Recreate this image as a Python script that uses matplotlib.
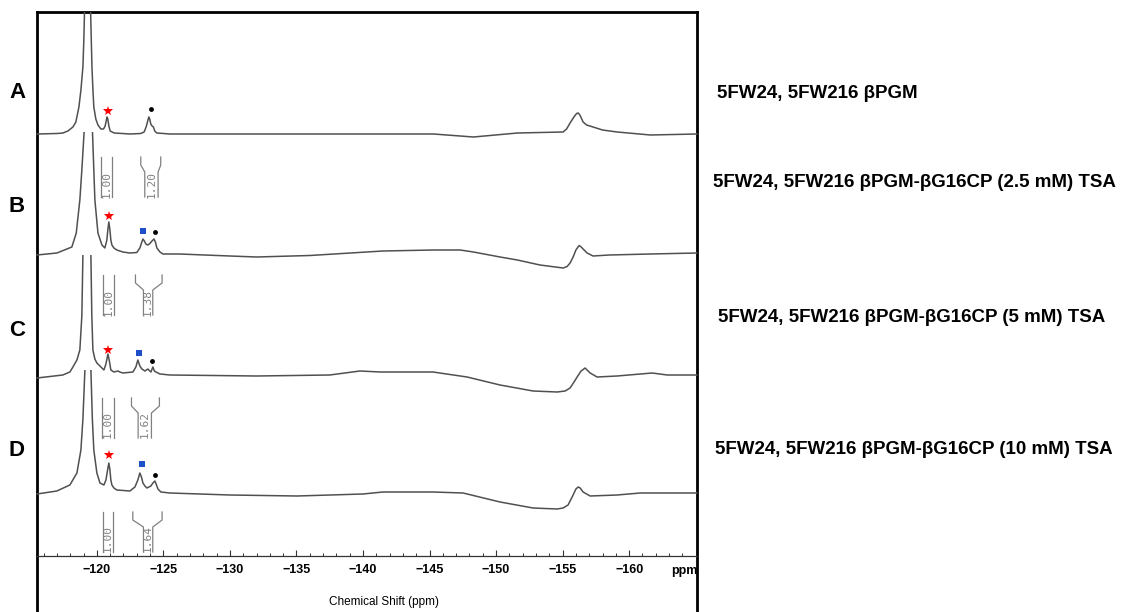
import matplotlib.pyplot as plt
from matplotlib.patches import Rectangle
import numpy as np

# 19F spectra: chemical shift (ppm) and height above each trace's own baseline
ppm_a = [-115.5, -117.0, -117.45, -117.82, -118.2, -118.42, -118.65, -118.8, -118.95, -119.02,
         -119.07, -119.3, -119.53, -119.58, -119.63, -119.7, -119.77, -119.92, -120.08, -120.3,
         -120.5, -120.62, -120.7, -120.76, -120.82, -120.9, -121.0, -121.3, -122.5, -123.3,
         -123.55, -123.7, -123.82, -123.9, -123.97, -124.05, -124.15, -124.25, -124.35, -124.5,
         -125.5, -141.3, -145.3, -148.3, -151.6, -155.04, -155.3, -155.56, -155.85, -156.05,
         -156.17, -156.3, -156.54, -156.8, -157.29, -158.0, -159.1, -161.6, -165.1]
int_a = [0, 0.5, 1, 3, 7, 12, 27, 44, 67, 94,
         122, 900, 122, 94, 67, 45, 27, 15, 9, 5,
         5, 8, 13, 17, 15, 8, 3, 1, 0, 0.5,
         2, 7, 13, 17, 15, 10, 8, 7, 3, 1,
         0, 0, 0, -3, 1, 2, 5, 11, 17, 20.5,
         21, 19, 12, 9, 7, 4, 2, -1, 0]

ppm_b = [-115.5, -117.0, -118.12, -118.45, -118.72, -118.87, -119.04, -119.36, -119.67, -119.77,
         -119.85, -120.08, -120.38, -120.6, -120.75, -120.83, -120.9, -120.98, -121.05, -121.13,
         -121.28, -121.5, -121.95, -122.48, -123.0, -123.23, -123.38, -123.46, -123.57, -123.68,
         -123.83, -123.98, -124.14, -124.29, -124.4, -124.51, -124.74, -124.96, -126.2, -130.0,
         -132.0, -136.0, -141.5, -145.3, -147.3, -148.3, -150.3, -151.6, -153.3, -155.04,
         -155.34, -155.56, -155.79, -156.0, -156.24, -156.4, -156.54, -156.84, -157.29, -158.5,
         -161.6, -165.1]
int_b = [0, 2, 8, 22, 55, 85, 123, 900, 123, 85,
         55, 22, 10, 7, 15, 26, 33, 25, 15, 10,
         7, 5, 3, 2, 2.5, 7, 13, 16, 14, 11,
         10, 11.5, 14, 16, 13, 7, 3, 1, 1, -1,
         -2, -0.5, 4, 5, 5, 3, -2, -5, -10, -13,
         -11.5, -8, -2, 5, 9.5, 8, 6, 2, -1, 0,
         1, 2]

ppm_c = [-115.5, -117.44, -117.97, -118.2, -118.5, -118.72, -118.87, -118.95, -119.25, -119.55,
         -119.62, -119.7, -119.85, -120.0, -120.23, -120.38, -120.53, -120.68, -120.83, -120.94,
         -121.05, -121.28, -121.58, -121.73, -121.95, -122.71, -122.93, -123.08, -123.23, -123.38,
         -123.61, -123.83, -123.98, -124.06, -124.21, -124.32, -124.44, -124.74, -125.49, -132.0,
         -137.5, -139.77, -141.3, -145.26, -147.82, -150.3, -152.78, -154.59, -155.19, -155.56,
         -155.86, -156.09, -156.39, -156.69, -156.84, -157.07, -157.59, -159.1, -161.73, -162.86,
         -165.1]
int_c = [-2, 1, 4, 9, 16, 26, 60, 121, 900, 121,
         60, 26, 17, 13, 10, 8, 6, 12, 22, 15,
         6, 4, 5, 4, 3, 4, 9, 16, 10, 7,
         5, 7, 5, 4, 9, 5, 4, 2, 1, 0,
         1, 5, 4, 4, -1, -9, -15, -16, -15, -12,
         -6, -1, 5, 8, 6, 3, -1, 0, 3, 1,
         1]

ppm_d = [-115.5, -116.99, -117.97, -118.5, -118.8, -118.95, -119.1, -119.32, -119.55, -119.66,
         -119.77, -120.0, -120.23, -120.53, -120.68, -120.83, -120.9, -120.98, -121.05, -121.13,
         -121.28, -121.5, -122.48, -122.86, -123.08, -123.23, -123.35, -123.46, -123.61, -123.76,
         -123.91, -124.06, -124.21, -124.36, -124.48, -124.59, -124.81, -125.49, -130.0, -135.04,
         -140.0, -141.5, -145.26, -147.52, -150.3, -152.78, -154.59, -155.04, -155.41, -155.64,
         -155.79, -156.0, -156.17, -156.32, -156.54, -157.07, -159.1, -160.83, -165.1]
int_d = [0, 3, 9, 21, 44, 75, 124, 900, 124, 75,
         44, 21, 11, 9, 14, 26, 31, 24, 14, 9,
         6, 4, 3, 7, 14, 21, 17, 11, 8, 6,
         7, 8, 11, 13, 9, 5, 2, 1, -1, -2,
         0, 2, 2, 1, -8, -14, -15, -14, -11, -5,
         -1, 5, 7, 6, 2, -2, -1, 1, 1]

spectra = [(ppm_a, int_a), (ppm_b, int_b), (ppm_c, int_c), (ppm_d, int_d)]
offsets = [422, 301, 180, 62]     # vertical stacking of the traces
caps = [122, 123, 121, 124]       # main peak is cut off here
letters = ['A', 'B', 'C', 'D']
sample_names = ['5FW24, 5FW216 βPGM',
                '5FW24, 5FW216 βPGM-βG16CP (2.5 mM) TSA',
                '5FW24, 5FW216 βPGM-βG16CP (5 mM) TSA',
                '5FW24, 5FW216 βPGM-βG16CP (10 mM) TSA']

# peak assignments (ppm, height above baseline)
star_ppm = [-120.83, -120.9, -120.83, -120.9]
star_h = [23, 39, 26, 39]
square_ppm = [None, -123.46, -123.16, -123.38]
square_h = [None, 24, 23, 30]
dot_ppm = [-124.06, -124.36, -124.14, -124.36]
dot_h = [25, 23, 15, 19]

# integrals: value, outer range, inner range
int_labels = [['1.00', '1.20'], ['1.00', '1.38'], ['1.00', '1.62'], ['1.00', '1.64']]
int_outer = [[(-120.3, -121.13), (-123.3, -124.8)],
             [(-120.45, -121.3), (-122.9, -124.9)],
             [(-120.4, -121.3), (-122.6, -124.7)],
             [(-120.45, -121.2), (-122.7, -124.9)]]
int_inner = [[(-120.3, -121.13), (-123.6, -124.6)],
             [(-120.45, -121.3), (-123.5, -124.2)],
             [(-120.4, -121.3), (-123.1, -124.1)],
             [(-120.45, -121.2), (-123.5, -124.2)]]
int_top = [399, 281, 158, 44]

W, H = 1133, 612
fig = plt.figure(figsize=(W / 100, H / 100), dpi=100)
plt.rcParams['font.family'] = ['Liberation Sans', 'DejaVu Sans']

# outer box
frame = fig.add_axes([37 / W, -0.05, 660 / W, 1 - 12 / H + 0.05])
frame.set_xticks([])
frame.set_yticks([])
frame.patch.set_alpha(0)
frame.spines['bottom'].set_visible(False)
for s in ['left', 'right', 'top']:
    frame.spines[s].set_linewidth(2)

ax = fig.add_axes([37 / W, 1 - 556 / H, 660 / W, 544 / H])
ax.patch.set_alpha(0)
ax.set_xlim(-115.5, -165.1)
ax.set_ylim(0, 544)
for s in ['left', 'right', 'top']:
    ax.spines[s].set_visible(False)
ax.spines['bottom'].set_linewidth(0.9)
ax.spines['bottom'].set_color('#333333')
ax.set_yticks([])
ax.set_xticks(np.arange(-120, -161, -5))
ax.set_xticks(np.arange(-116, -165, -1), minor=True)
ax.tick_params(axis='x', which='major', direction='in', length=4.5, width=0.8,
               color='#333333', pad=6, labelsize=9)
ax.tick_params(axis='x', which='minor', direction='in', length=2.2, width=0.7, color='#333333')
ax.set_xticklabels(['\u2212%d' % -t for t in np.arange(-120, -161, -5)], fontweight='bold')

for i, (ppm, h) in enumerate(spectra):
    y = np.array(h, dtype=float) + offsets[i]
    line, = ax.plot(ppm, y, color='#505050', lw=1.1)
    clip = Rectangle((-170, -100), 60, offsets[i] + caps[i] + 100, transform=ax.transData)
    line.set_clip_path(clip)

    ax.plot(star_ppm[i], offsets[i] + star_h[i], marker='*', color='red', ms=7, mew=0)
    if square_ppm[i] is not None:
        ax.plot(square_ppm[i], offsets[i] + square_h[i], marker='s', color='#1f4fc8', ms=4, mew=0)
    ax.plot(dot_ppm[i], offsets[i] + dot_h[i], marker='o', color='black', ms=3.5, mew=0)

    top = int_top[i]
    bot = top - 40
    for lab, (o0, o1), (i0, i1) in zip(int_labels[i], int_outer[i], int_inner[i]):
        ax.plot([o0, o0, i0, i0], [top, top - 8, top - 15, bot], color='#808080', lw=0.9)
        ax.plot([o1, o1, i1, i1], [top, top - 8, top - 15, bot], color='#808080', lw=0.9)
        ax.text((i0 + i1) / 2, bot + 13, lab, rotation=90, ha='center', va='center',
                fontsize=8, color='#808080', family='DejaVu Sans Mono')

letter_y = [92, 207, 331, 451]
for lab, ly in zip(letters, letter_y):
    fig.text(17 / W, 1 - ly / H, lab, ha='center', va='center', fontsize=16, fontweight='bold')

name_x = [717, 713, 718, 715]
name_y = [93, 182, 317, 450]
for name, nx, ny in zip(sample_names, name_x, name_y):
    fig.text(nx / W, 1 - ny / H, name, ha='left', va='center', fontsize=13.5, fontweight='bold')

fig.text(684 / W, 1 - 571 / H, 'ppm', ha='center', va='center', fontsize=9, fontweight='bold')
fig.text(384 / W, 1 - 602 / H, 'Chemical Shift (ppm)', ha='center', va='center', fontsize=8.5)

plt.savefig('out.png', dpi=100)
